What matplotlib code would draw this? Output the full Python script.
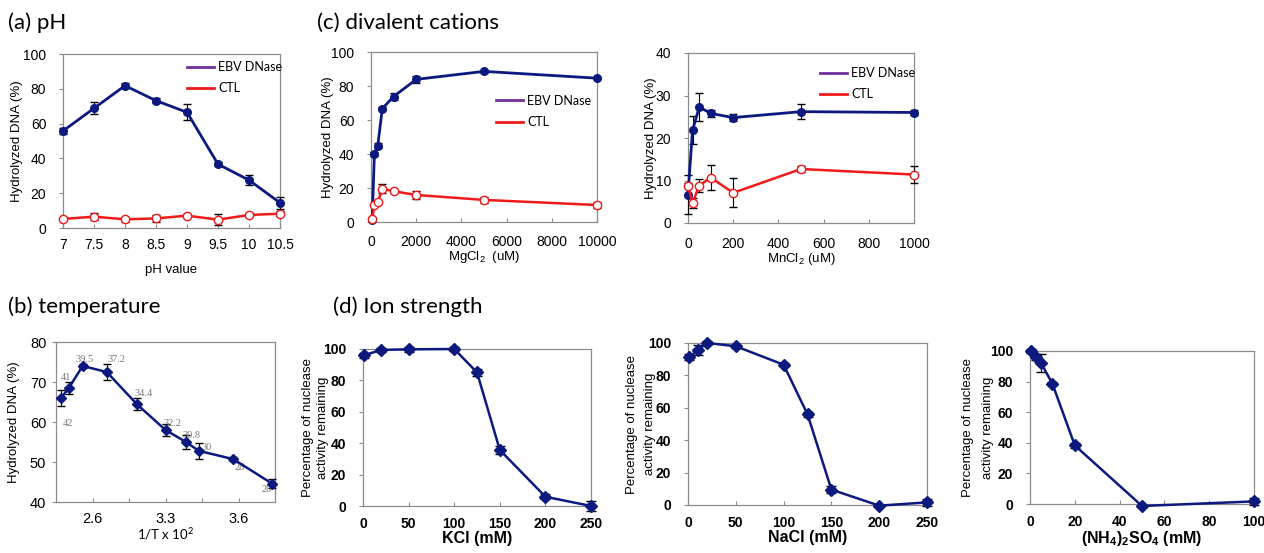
import numpy as np
import matplotlib.pyplot as plt
from matplotlib.lines import Line2D

plt.rcParams['font.family'] = ['Liberation Sans', 'DejaVu Sans']
plt.rcParams['mathtext.fontset'] = 'custom'
plt.rcParams['mathtext.rm'] = 'Liberation Sans'
plt.rcParams['mathtext.bf'] = 'Liberation Sans:bold'
plt.rcParams['axes.edgecolor'] = '#8c8c8c'
plt.rcParams['axes.linewidth'] = 0.9

# (a) pH
ph = [7, 7.5, 8, 8.5, 9, 9.5, 10, 10.5]
ph_ebv = [55.8, 68.8, 81.8, 73.2, 66.5, 36.7, 27.5, 14.5]
ph_ebv_err = [1.5, 3.5, 1.5, 1.5, 4.5, 1, 3, 3.5]
ph_ctl = [5.2, 6.5, 5.0, 5.5, 7.1, 4.8, 7.5, 8.2]
ph_ctl_err = [0.5, 2, 1.5, 2, 0.8, 3, 1, 1.5]

# (c) MgCl2
mg = [50, 150, 300, 500, 1000, 2000, 5000, 10000]
mg_ebv = [1, 40, 45, 66.7, 73.8, 83.9, 88.6, 84.6]
mg_ebv_err = [0.5, 1, 1.5, 1, 2, 2, 1, 0.5]
mg_ctl = [1.6, 9.8, 11.6, 19.7, 18.1, 15.9, 13.0, 10.0]
mg_ctl_err = [0.5, 0.5, 1, 2.5, 0.5, 2.5, 2, 2]

# (c) MnCl2
mn = [0, 20, 50, 100, 200, 500, 1000]
mn_ebv = [6.7, 21.8, 27.3, 25.8, 24.8, 26.2, 26.0]
mn_ebv_err = [4.5, 3.3, 3.2, 0.8, 0.9, 1.7, 0.5]
mn_ctl = [8.8, 4.7, 8.8, 10.7, 7.1, 12.7, 11.4]
mn_ctl_err = [0.5, 1.2, 1.5, 2.9, 3.4, 0.8, 2]

# (b) temperature (x = position on the 1/T axis, ticks at 1..5)
temp_pos = [0.14, 0.35, 0.73, 1.39, 2.21, 3.0, 3.56, 3.91, 4.86, 5.92]
temp_val = [66, 68.5, 74, 72.5, 64.5, 58, 55, 52.8, 50.7, 44.6]
temp_err = [2, 1.5, 0.5, 2, 1.5, 1.5, 1.8, 2, 0.5, 1.2]
temp_lbl = ['42', '41', '39.5', '37.2', '34.4', '32.2', '30.8', '30', '28', '20']
temp_ticks = ['2.6', '', '3.3', '', '3.6']

# (d) ion strength
kcl = [1, 20, 50, 100, 125, 150, 200, 250]
kcl_act = [96, 99.4, 99.8, 100, 85.1, 35.7, 5.9, 0]
kcl_err = [1.5, 1, 1.5, 1, 2, 2.5, 1.5, 3.5]

nacl = [1, 10, 20, 50, 100, 125, 150, 200, 250]
nacl_act = [91.2, 95.5, 100, 98, 86.6, 56, 9.5, -0.4, 1.6]
nacl_err = [2, 3, 1, 1, 1, 1.5, 2, 0.5, 2]

nh4 = [0.5, 2.5, 5, 10, 20, 50, 100]
nh4_act = [100, 96, 92, 78.6, 38.3, -1.3, 1.7]
nh4_err = [1, 2, 6, 1, 1.5, 0.5, 2.5]

NAVY = '#0c1a80'
RED = '#f01a1a'
PURPLE = '#7030a0'

W, H = 1264, 553
fig = plt.figure(figsize=(W / 100, H / 100), dpi=100)


def add_ax(x0, x1, y0, y1):
    return fig.add_axes([x0 / W, 1 - y1 / H, (x1 - x0) / W, (y1 - y0) / H])


def style(ax, size=10, bold=False, xpad=7, ypad=9):
    ax.tick_params(axis='x', direction='in', length=3, width=0.8, color='#8c8c8c',
                   labelsize=size, pad=xpad)
    ax.tick_params(axis='y', direction='out', length=3, width=0.8, color='#8c8c8c',
                   labelsize=size, pad=ypad)
    if bold:
        for t in ax.get_xticklabels() + ax.get_yticklabels():
            t.set_fontweight('bold')


def ebv_ctl(ax, x, ye, ee, yc, ec):
    ax.errorbar(x, ye, yerr=ee, color=NAVY, lw=2, marker='o', ms=5.5,
                ecolor='black', elinewidth=0.8, capsize=3, clip_on=False, zorder=3)
    ax.errorbar(x, yc, yerr=ec, color=RED, lw=1.8, marker='o', ms=6, mfc='white',
                mec=RED, mew=1, ecolor='black', elinewidth=0.8, capsize=3,
                clip_on=False, zorder=3)


def legend(ax, x, y):
    h = [Line2D([], [], color=PURPLE, lw=2), Line2D([], [], color=RED, lw=2)]
    ax.legend(h, ['EBV DNase', 'CTL'], loc='upper left', bbox_to_anchor=(x, y),
              frameon=False, prop={'family': 'Lato', 'size': 9},
              handlelength=2.2, handletextpad=0.3, labelspacing=0.75, borderpad=0,
              borderaxespad=0)


def title(x, y, s):
    fig.text(x / W, 1 - y / H, s, family='Lato', fontsize=16, va='center', ha='left')


# ---- (a) pH
ax = add_ax(63, 280, 54, 228)
ebv_ctl(ax, ph, ph_ebv, ph_ebv_err, ph_ctl, ph_ctl_err)
ax.set_xlim(7, 10.5)
ax.set_ylim(0, 100)
ax.set_xticks(ph)
ax.set_xticklabels(['7', '7.5', '8', '8.5', '9', '9.5', '10', '10.5'])
ax.set_yticks(range(0, 101, 20))
style(ax)
ax.set_xlabel('pH value', fontsize=9.5, labelpad=9)
ax.set_ylabel('Hydrolyzed DNA (%)', fontsize=9.5, va='center')
ax.yaxis.set_label_coords(-0.21, 0.5)
legend(ax, 0.57, 0.96)
title(8, 23, '(a) pH')

# ---- (c) MgCl2
ax = add_ax(371, 597, 52, 222)
ebv_ctl(ax, mg, mg_ebv, mg_ebv_err, mg_ctl, mg_ctl_err)
ax.set_xlim(0, 10000)
ax.set_ylim(0, 100)
ax.set_xticks(range(0, 10001, 2000))
ax.set_yticks(range(0, 101, 20))
style(ax, xpad=9)
ax.set_xlabel(r'MgCl$\mathregular{_2}$  (uM)', fontsize=9.5, labelpad=0)
ax.set_ylabel('Hydrolyzed DNA (%)', fontsize=9.5, va='center')
ax.yaxis.set_label_coords(-0.19, 0.5)
legend(ax, 0.553, 0.75)
title(317, 23, '(c) divalent cations')

# ---- (c) MnCl2
ax = add_ax(688, 914, 53, 223)
ebv_ctl(ax, mn, mn_ebv, mn_ebv_err, mn_ctl, mn_ctl_err)
ax.set_xlim(0, 1000)
ax.set_ylim(0, 40)
ax.set_xticks(range(0, 1001, 200))
ax.set_yticks(range(0, 41, 10))
style(ax, xpad=10)
ax.set_xlabel(r'MnCl$\mathregular{_2}$ (uM)', fontsize=9.5, labelpad=0)
ax.set_ylabel('Hydrolyzed DNA (%)', fontsize=9.5, va='center')
ax.yaxis.set_label_coords(-0.165, 0.5)
legend(ax, 0.584, 0.918)

# ---- (b) temperature
ax = add_ax(56, 275, 342, 502)
ax.errorbar(temp_pos, temp_val, yerr=temp_err, color=NAVY, lw=1.8, marker='D', ms=5.5,
            ecolor='black', elinewidth=0.8, capsize=3, clip_on=False, zorder=3)
offs = [(2, -25, 'left'), (-3, 10, 'center'), (2, 7, 'center'), (1, 13, 'left'),
        (-2, 10, 'left'), (-2, 7, 'left'), (-3, 6, 'left'), (3, 3, 'left'),
        (1, -8, 'left'), (0, -6, 'right')]
for xp, yv, lab, (dx, dy, ha) in zip(temp_pos, temp_val, temp_lbl, offs):
    ax.annotate(lab, (xp, yv), xytext=(dx, dy), textcoords='offset pixels',
                ha=ha, va='center', fontsize=7.5, family='Liberation Serif',
                color='#777777')
ax.set_xlim(0, 6)
ax.set_ylim(40, 80)
ax.set_xticks([1, 2, 3, 4, 5])
ax.set_xticklabels(temp_ticks)
ax.set_yticks(range(40, 81, 10))
style(ax, size=10.5, xpad=7, ypad=4)
ax.set_xlabel(r'1/T x 10$\mathregular{^2}$', fontsize=9.5, family='Lato', labelpad=0)
ax.set_ylabel('Hydrolyzed DNA (%)', fontsize=9.5, va='center')
ax.yaxis.set_label_coords(-0.19, 0.5)
title(8, 307, '(b) temperature')

# ---- (d) ion strength
ion = [
    ((363, 591, 349, 506), kcl, kcl_act, kcl_err, 250, 50, 'KCl (mM)', (308, 323)),
    ((688, 927, 343, 505), nacl, nacl_act, nacl_err, 250, 50, 'NaCl (mM)', (632, 650)),
    ((1030, 1254, 351, 504), nh4, nh4_act, nh4_err, 100, 20,
     r'(NH$_\mathbf{4}$)$_\mathbf{2}$SO$_\mathbf{4}$ (mM)', (968, 988)),
]
for box, x, y, e, xmax, step, xlab, (l1, l2) in ion:
    ax = add_ax(*box)
    ax.errorbar(x, y, yerr=e, color=NAVY, lw=1.8, marker='D', ms=6.5,
                ecolor='black', elinewidth=0.8, capsize=3.5, clip_on=False, zorder=3)
    ax.set_xlim(0, xmax)
    ax.set_ylim(0, 100)
    ax.set_xticks(range(0, xmax + 1, step))
    ax.set_yticks(range(0, 101, 20))
    style(ax, size=10, bold=True, xpad=8, ypad=9)
    ax.set_xlabel(xlab, fontsize=11.5, fontweight='bold', labelpad=0)
    x0 = box[0]
    w = box[1] - box[0]
    ax.text((l1 - x0) / w, 0.5, 'Percentage of nuclease', transform=ax.transAxes,
            rotation=90, ha='center', va='center', fontsize=9.5)
    ax.text((l2 - x0) / w, 0.5, 'activity remaining', transform=ax.transAxes,
            rotation=90, ha='center', va='center', fontsize=9.5)
title(333, 307, '(d) Ion strength')

fig.savefig('out.png', dpi=100)
